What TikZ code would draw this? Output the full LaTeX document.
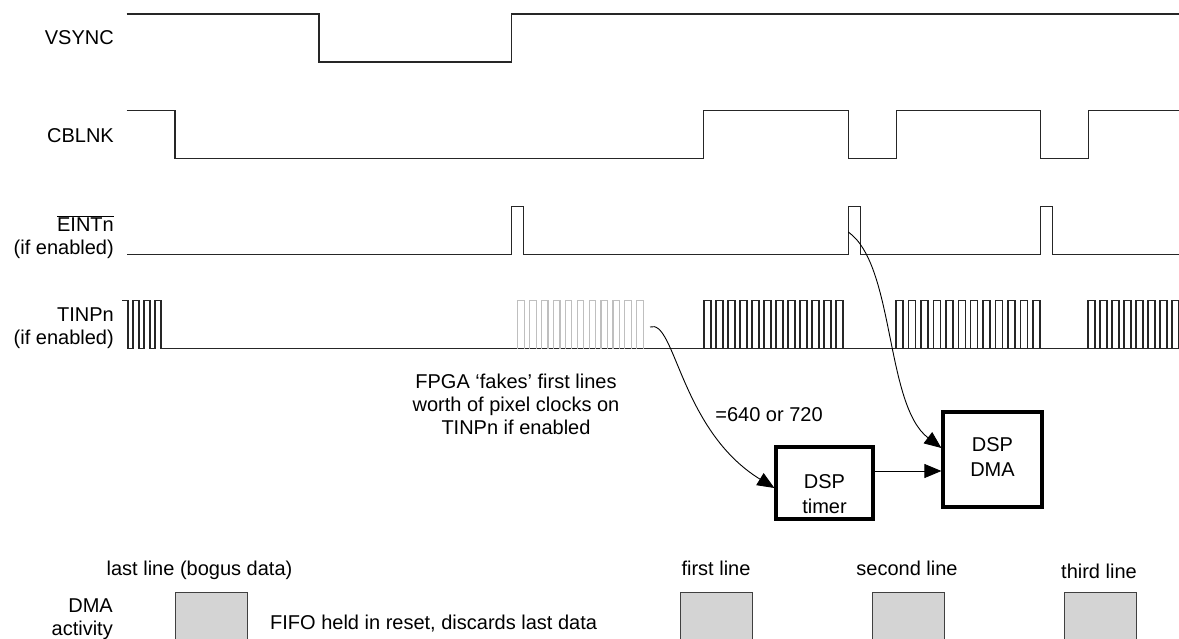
\documentclass[tikz,border=0pt]{standalone}
\usepackage{fontspec}
\setmainfont{Liberation Sans}
\usetikzlibrary{arrows.meta}
\begin{document}
\begin{tikzpicture}[x=1pt,y=-1pt,
  sig/.style={line width=1.4pt, draw=black!85, line join=miter},
  fake/.style={line width=1.2pt, draw=black!25},
  lbl/.style={font=\fontsize{20}{23}\selectfont, inner sep=0pt},
  sigl/.style={lbl, anchor=east, align=right},
  blk/.style={draw, line width=3.2pt, inner sep=0pt},
  blktxt/.style={font=\fontsize{20}{25}\selectfont, inner sep=0pt, align=center},
  conn/.style={line width=0.9pt, -{Triangle[length=17pt,width=14pt]}},
  dmabox/.style={draw=black!75, fill=black!17, line width=0.8pt, minimum width=72pt, minimum height=56pt, inner sep=0pt},
]
\useasboundingbox (0,0) rectangle (1179,638);
\clip (0,0) rectangle (1179,638);

% signal labels
\node[sigl] (vsync) at (114,38) {VSYNC};
\node[sigl] (cblnk) at (114,136) {CBLNK};
\node[sigl] (eint) at (114,237.5) {$\overline{\hbox{EINTn}}$\\(if enabled)};
\node[sigl] (tinp) at (114,328) {TINPn\\(if enabled)};
\node[sigl] (dmaact) at (113,619) {DMA\\activity};

% VSYNC
\draw[sig] (126.7,14) -- (319,14) -- (319,62) -- (511.7,62) -- (511.7,14) -- (1179,14);
% CBLNK
\draw[sig] (126.7,110.7) -- (175,110.7) -- (175,158.7) -- (703.7,158.7) -- (703.7,110.7)
  -- (848.3,110.7) -- (848.3,158.7) -- (896.3,158.7) -- (896.3,110.7)
  -- (1040.3,110.7) -- (1040.3,158.7) -- (1088.7,158.7) -- (1088.7,110.7) -- (1179,110.7);
% EINTn
\draw[sig] (127,254.5) -- (511.7,254.5) -- (511.7,206.7) -- (523.7,206.7) -- (523.7,254.5)
  -- (848.3,254.5) -- (848.3,206.7) -- (860.3,206.7) -- (860.3,254.5)
  -- (1040.3,254.5) -- (1040.3,206.7) -- (1052.5,206.7) -- (1052.5,254.5) -- (1179,254.5);
% TINPn
\draw[sig] (122,300.7) -- (128,300.7) -- (128,348.7) -- (133,348.7) -- (133,300.7) -- (139,300.7)
  -- (139,348.7) -- (144,348.7) -- (144,300.7) -- (150,300.7) -- (150,348.7) -- (155,348.7)
  -- (155,300.7) -- (161,300.7) -- (161,348.7) -- (1179,348.7);
\foreach \k in {0,...,10}
  \draw[fake] ({517.7+\k*11.9},348.7) -- ({517.7+\k*11.9},300.7) -- ({524.2+\k*11.9},300.7) -- ({524.2+\k*11.9},348.7);
\foreach \a/\p/\n in {704/12/11, 896/12.45/11, 1088/12/7} {
  \foreach \k in {0,...,\n}
    \draw[sig] ({\a+\k*\p},348.7) -- ({\a+\k*\p},300.7) -- ({\a+\k*\p+7},300.7) -- ({\a+\k*\p+7},348.7);
}

% annotation
\node[lbl, align=center] (fpga) at (516,404) {FPGA ‘fakes’ first lines\\worth of pixel clocks on\\TINPn if enabled};
\node[lbl] (count) at (769,415) {=640 or 720};

% DSP blocks
\node[blk, minimum width=97pt, minimum height=72pt] (timer) at (824.5,483) {};
\node[blktxt] (timertxt) at (824.5,494) {DSP\\timer};
\node[blk, minimum width=99pt, minimum height=95pt] (dma) at (992.5,459.5) {};
\node[blktxt] (dmatxt) at (992.5,457.5) {DSP\\DMA};

\coordinate (e1) at (848.3,232);
\coordinate (f1) at (650,327);
\draw[conn] (e1) .. controls (895,265) and (885,405) .. ([yshift=11.5pt]dma.west);
\draw[conn] (f1) .. controls (675,318) and (680,430) .. ([yshift=-5pt]timer.west);
\draw[conn] ([yshift=12pt]timer.east) -- ([yshift=12pt]timer.east -| dma.west);

% DMA activity
\node[dmabox] (b0) at (211,620) {};
\node[dmabox] (b1) at (716,620) {};
\node[dmabox] (b2) at (908,620) {};
\node[dmabox] (b3) at (1100,620) {};
\node[lbl] (l0) at (199.5,570) {last line (bogus data)};
\node[lbl] (l1) at (716,568) {first line};
\node[lbl] (l2) at (907,568) {second line};
\node[lbl] (l3) at (1099,571) {third line};
\node[lbl, anchor=west] (fifo) at (270,624) {FIFO held in reset, discards last data};
\end{tikzpicture}
\end{document}
